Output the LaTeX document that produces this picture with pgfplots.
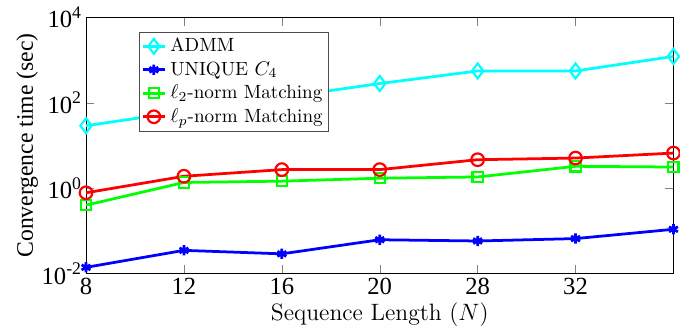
\documentclass[border={5pt 0pt 0pt 0pt}]{standalone}
\usepackage{fontspec}
\usepackage{pgfplots}
\pgfplotsset{compat=1.18}
\newfontfamily\tnr{Liberation Serif}
\definecolor{mcyan}{rgb}{0,1,1}
\definecolor{mblue}{rgb}{0,0,1}
\definecolor{mgreen}{rgb}{0,1,0}
\definecolor{mred}{rgb}{1,0,0}
\newcommand\tpow[1]{10\raisebox{0.85ex}{\fontsize{9}{10}\selectfont #1}}
\begin{document}
\begin{tikzpicture}
\begin{axis}[
  scale only axis,
  width=298pt, height=130pt,
  ymode=log,
  xmin=0, xmax=6,
  ymin=1e-2, ymax=1e4,
  xtick={0,1,2,3,4,5,6},
  xticklabels={8,12,16,20,28,32,},
  ytick={1e-2,1e0,1e2,1e4},
  yticklabels={\tpow{-2},\tpow{0},\tpow{2},\tpow{4}},
  tick align=inside,
  tick pos=both,
  xlabel={Sequence Length $(N)$},
  ylabel={Convergence time (sec)},
  xlabel style={font=\fontsize{12}{14}\selectfont, yshift=3pt},
  ylabel style={font=\tnr\fontsize{12}{14}\selectfont, yshift=-5pt},
  tick label style={font=\tnr\fontsize{12.5}{14}\selectfont},
  yticklabel style={xshift=1pt},
  xticklabel style={yshift=1pt},
  legend style={at={(0.09,0.944)}, anchor=north west, font=\fontsize{9.7}{11}\selectfont,
    draw=black!70, inner sep=1pt, row sep=-0.5pt, cells={anchor=west}},
  legend cell align=left,
  legend image code/.code={\draw[mark repeat=2,mark phase=2,sharp plot] plot coordinates {(0cm,0cm) (0.2cm,0cm) (0.4cm,0cm)};},
  every axis plot/.append style={line width=1.4pt},
]
\addplot[mcyan, mark=diamond, mark size=3.8pt, mark options={solid, line width=1.1pt}] coordinates {
 (0,29) (1,63) (2,133) (3,282) (4,555) (5,555) (6,1216)};
\addlegendentry{ADMM}
\addplot[mblue, mark=asterisk, mark size=2.6pt, mark options={line width=1.4pt}] coordinates {
 (0,0.014) (1,0.035) (2,0.029) (3,0.062) (4,0.058) (5,0.066) (6,0.109)};
\addlegendentry{UNIQUE $C_4$}
\addplot[mgreen, mark=square, mark size=2.6pt, mark options={line width=1.1pt}] coordinates {
 (0,0.40) (1,1.36) (2,1.46) (3,1.71) (4,1.83) (5,3.25) (6,3.13)};
\addlegendentry{$\ell_2$-norm Matching}
\addplot[mred, mark=o, mark size=3.2pt, mark options={line width=1.1pt}] coordinates {
 (0,0.78) (1,1.90) (2,2.72) (3,2.72) (4,4.64) (5,5.07) (6,6.64)};
\addlegendentry{$\ell_p$-norm Matching}
\end{axis}
\end{tikzpicture}
\end{document}
